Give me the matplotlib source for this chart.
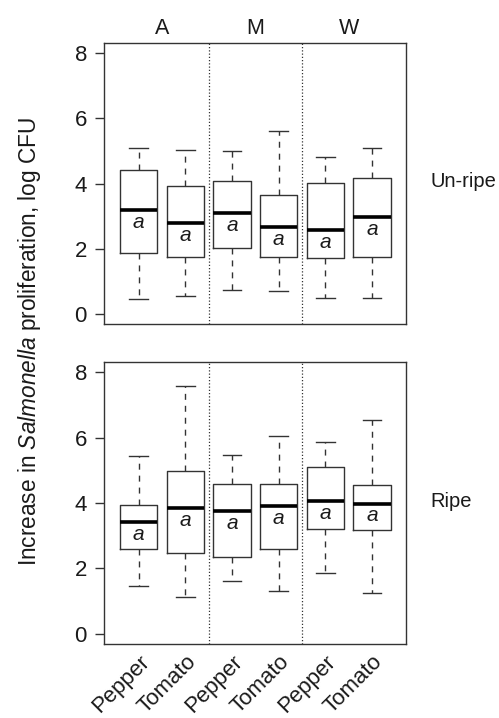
import matplotlib
matplotlib.use('Agg')
import matplotlib.pyplot as plt

plt.rcParams['font.family'] = ['Liberation Sans', 'DejaVu Sans']
plt.rcParams['mathtext.fontset'] = 'custom'
plt.rcParams['mathtext.rm'] = 'Liberation Sans'
plt.rcParams['mathtext.it'] = 'Liberation Sans:italic'

# data (log CFU)
groups = ['A', 'M', 'W']
produce = ['Pepper', 'Tomato', 'Pepper', 'Tomato', 'Pepper', 'Tomato']
ripeness = ['Un-ripe', 'Ripe']
letters = ['a', 'a', 'a', 'a', 'a', 'a']

unripe_low = [0.45, 0.54, 0.72, 0.69, 0.49, 0.49]
unripe_q1 = [1.86, 1.76, 2.02, 1.74, 1.71, 1.74]
unripe_med = [3.19, 2.78, 3.10, 2.66, 2.57, 2.96]
unripe_q3 = [4.41, 3.91, 4.09, 3.65, 4.03, 4.17]
unripe_high = [5.08, 5.02, 4.99, 5.62, 4.81, 5.10]

ripe_low = [1.44, 1.11, 1.61, 1.30, 1.86, 1.23]
ripe_q1 = [2.60, 2.47, 2.33, 2.58, 3.20, 3.16]
ripe_med = [3.42, 3.83, 3.76, 3.90, 4.05, 3.98]
ripe_q3 = [3.93, 4.97, 4.57, 4.58, 5.09, 4.55]
ripe_high = [5.42, 7.57, 5.47, 6.05, 5.87, 6.54]

panels = [
    (unripe_low, unripe_q1, unripe_med, unripe_q3, unripe_high),
    (ripe_low, ripe_q1, ripe_med, ripe_q3, ripe_high),
]

fig = plt.figure(figsize=(4.99, 7.18), dpi=100)
ax_top = fig.add_axes([0.209, 0.5483, 0.6056, 0.3922])
ax_bot = fig.add_axes([0.209, 0.1031, 0.6056, 0.3931])

edge = '#333333'
txt = '#1a1a1a'
positions = list(range(1, len(produce) + 1))

for ax, data, label in zip([ax_top, ax_bot], panels, ripeness):
    low, q1, med, q3, high = data
    stats = []
    for i in range(len(produce)):
        stats.append({'whislo': low[i], 'q1': q1[i], 'med': med[i],
                      'q3': q3[i], 'whishi': high[i], 'fliers': []})
    ax.bxp(stats, positions=positions, widths=0.8, capwidths=0.4,
           showfliers=False,
           boxprops=dict(color=edge, linewidth=1.0),
           medianprops=dict(color='black', linewidth=2.6, solid_capstyle='butt'),
           whiskerprops=dict(color=edge, linewidth=1.0, linestyle=(0, (4.3, 4.3))),
           capprops=dict(color=edge, linewidth=1.0))

    for x, m, let in zip(positions, med, letters):
        ax.text(x, m - 0.38, let, ha='center', va='center',
                fontsize=15, style='italic', color=txt)

    for xd in [2.5, 4.5]:
        ax.axvline(xd, color=edge, linestyle=(0, (1, 1.6)), linewidth=0.9)

    ax.set_xlim(0.26, 6.74)
    ax.set_ylim(-0.32, 8.32)
    ax.set_yticks([0, 2, 4, 6, 8])
    ax.tick_params(axis='y', length=6.5, width=1.0, pad=6, labelsize=16,
                   color=edge, labelcolor=txt)
    for sp in ax.spines.values():
        sp.set_color(edge)
        sp.set_linewidth(1.0)

    ax.text(1.078, 4.05, label, transform=ax.get_yaxis_transform(),
            ha='left', va='center', fontsize=14.5, color=txt)

ax_top.set_xticks([])
for k, g in enumerate(groups):
    ax_top.text(2 * k + 1.5, 1.031, g, transform=ax_top.get_xaxis_transform(),
                ha='center', va='baseline', fontsize=15.5, color=txt)

ax_bot.set_xticks(positions)
ax_bot.set_xticklabels(produce, rotation=45, ha='right', va='top',
                       rotation_mode='anchor', fontsize=16, color=txt)
ax_bot.tick_params(axis='x', length=0, pad=5)

fig.text(0.06, 0.524, r'Increase in $\mathit{Salmonella}$ proliferation, log CFU',
         rotation=90, ha='center', va='center', fontsize=16.3, color=txt)

fig.savefig('out.png', dpi=100)
